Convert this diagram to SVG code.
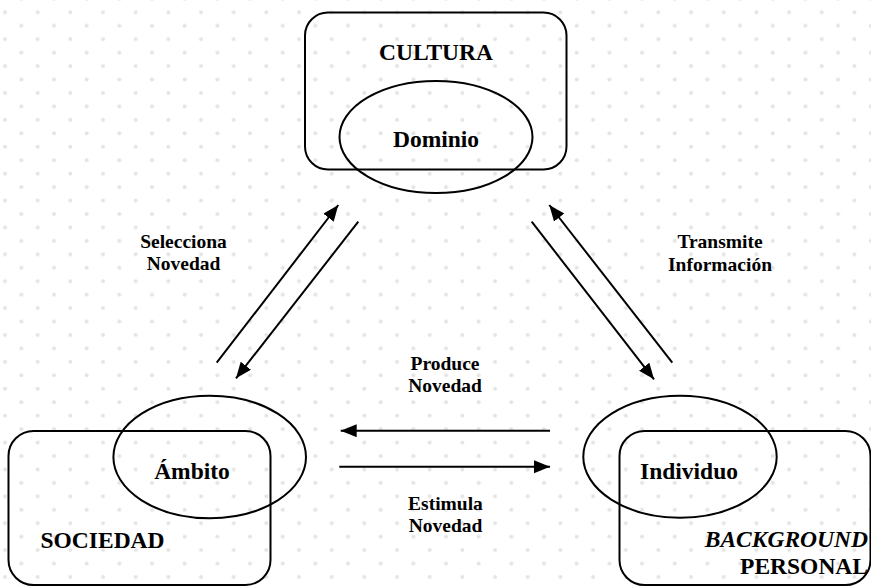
<svg xmlns="http://www.w3.org/2000/svg" width="871" height="586" viewBox="0 0 871 586">
<defs>
<pattern id="dots" patternUnits="userSpaceOnUse" x="-3.17" y="5.58" width="32.67" height="26.89">
<circle cx="8.17" cy="6.72" r="2" fill="#e4e4e4"/>
<circle cx="24.5" cy="20.17" r="2" fill="#e4e4e4"/>
</pattern>
<marker id="ah" markerUnits="userSpaceOnUse" markerWidth="18" markerHeight="14" refX="16" refY="6.5" orient="auto">
<path d="M0,0 L16,6.5 L0,13 Z" fill="#000"/>
</marker>
<style>
.shape{fill:none;stroke:#000;stroke-width:2}
.conn{stroke:#000;stroke-width:2;fill:none}
text{font-family:'Liberation Serif','Times New Roman','DejaVu Serif',serif;font-weight:700;fill:#000}
.big{font-size:23.5px}
.lbl{font-size:19.5px;text-anchor:middle}
</style>
</defs>
<rect width="871" height="586" fill="#fff"/>
<rect width="871" height="586" fill="url(#dots)"/>

<g id="cultura">
<rect class="shape" x="305" y="12.5" width="261.5" height="157" rx="23" ry="23"/>
<ellipse class="shape" cx="436" cy="137" rx="96.5" ry="56"/>
<text class="big" x="436" y="60" text-anchor="middle" font-family="Liberation Serif, serif">CULTURA</text>
<text class="big" x="436" y="147" text-anchor="middle" font-family="Liberation Serif, serif">Dominio</text>
</g>

<g id="sociedad">
<rect class="shape" x="8.5" y="431" width="262" height="154" rx="25" ry="25"/>
<ellipse class="shape" cx="209.7" cy="457" rx="96.3" ry="61.3"/>
<text class="big" x="192" y="478.5" text-anchor="middle" font-family="Liberation Serif, serif">Ámbito</text>
<text class="big" x="40.5" y="547.5" font-family="Liberation Serif, serif">SOCIEDAD</text>
</g>

<g id="individuo">
<rect class="shape" x="619.5" y="431" width="251" height="154" rx="25" ry="25"/>
<ellipse class="shape" cx="680" cy="456.7" rx="96.7" ry="61"/>
<text class="big" x="689" y="478.5" text-anchor="middle" font-family="Liberation Serif, serif">Individuo</text>
<text class="big" x="868" y="547" text-anchor="end" font-style="italic" font-family="Liberation Serif, serif">BACKGROUND</text>
<text class="big" x="868" y="573.5" text-anchor="end" font-family="Liberation Serif, serif">PERSONAL</text>
</g>

<g id="connectors">
<line class="conn" x1="216.7" y1="362.7" x2="338.3" y2="205" marker-end="url(#ah)"/>
<line class="conn" x1="358.3" y1="221.7" x2="236" y2="378.3" marker-end="url(#ah)"/>
<line class="conn" x1="672.3" y1="362.7" x2="549.3" y2="205" marker-end="url(#ah)"/>
<line class="conn" x1="531.7" y1="221.7" x2="654" y2="379.3" marker-end="url(#ah)"/>
<line class="conn" x1="550" y1="430.7" x2="340.7" y2="430.7" marker-end="url(#ah)"/>
<line class="conn" x1="339.3" y1="466.7" x2="550" y2="466.7" marker-end="url(#ah)"/>
</g>

<g id="labels">
<text class="lbl" x="183.5" y="247.7" font-family="Liberation Serif, serif">Selecciona</text>
<text class="lbl" x="183.5" y="270" font-family="Liberation Serif, serif">Novedad</text>
<text class="lbl" x="720" y="247.7" font-family="Liberation Serif, serif">Transmite</text>
<text class="lbl" x="720" y="271" font-family="Liberation Serif, serif">Información</text>
<text class="lbl" x="445" y="370" font-family="Liberation Serif, serif">Produce</text>
<text class="lbl" x="445" y="391.7" font-family="Liberation Serif, serif">Novedad</text>
<text class="lbl" x="445.5" y="510" font-family="Liberation Serif, serif">Estimula</text>
<text class="lbl" x="445.5" y="531.7" font-family="Liberation Serif, serif">Novedad</text>
</g>
</svg>
